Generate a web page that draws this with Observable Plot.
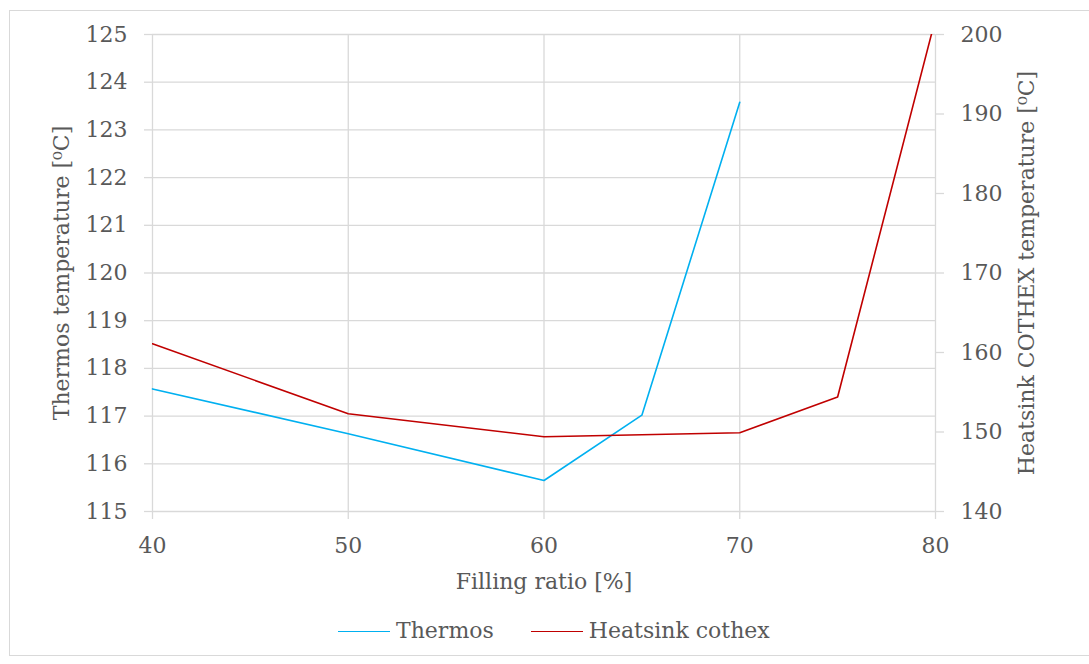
<!DOCTYPE html>
<html><head><meta charset="utf-8">
<script src="https://cdn.jsdelivr.net/npm/d3@7"></script>
<script src="https://cdn.jsdelivr.net/npm/@observablehq/plot@0.6"></script>
<style>
body{margin:0;background:#fff;font-family:"DejaVu Serif",serif;color:#595959}
#wrap{position:relative;width:1089px;height:664px;overflow:hidden}
#border{position:absolute;left:9px;top:10px;width:1100px;height:646px;border:1px solid #d9d9d9;box-sizing:border-box}
#chart{position:absolute;left:0;top:0}
#legend{position:absolute;left:338px;top:616px;height:30px;line-height:30px;display:flex;align-items:center;font-size:22px;white-space:nowrap}
.sw{display:inline-block;width:52px;height:0;margin-right:6px}
.item{display:flex;align-items:center}
</style></head><body>
<div id="wrap"><div id="border"></div><div id="chart"></div><div id="legend"></div></div>
<script>
// Data
const thermosX = [40, 50, 60, 65, 70];
const thermosT = [117.57, 116.63, 115.65, 117.02, 123.58];
const heatsinkX = [40, 50, 60, 70, 75, 80];
const heatsinkT = [161.1, 152.3, 149.4, 149.9, 154.4, 202];
const xTicks = [40, 50, 60, 70, 80];
const leftTicks = [115, 116, 117, 118, 119, 120, 121, 122, 123, 124, 125];
const rightTicks = [140, 150, 160, 170, 180, 190, 200];
const seriesNames = ["Thermos", "Heatsink cothex"];
const seriesColors = ["#00b0f0", "#c00000"];
const labels = {x: "Filling ratio [%]", left: "Thermos temperature [\u2070C]", right: "Heatsink COTHEX temperature [\u2070C]"};

// map right-axis values onto left scale (140..200 -> 115..125)
const toLeft = v => 115 + (v - 140) / 6;
const toRight = v => Math.round(140 + (v - 115) * 6);

const thermos = thermosX.map((x, i) => ({x, y: thermosT[i]}));
const heat = heatsinkX.map((x, i) => ({x, y: toLeft(heatsinkT[i])}));

const grid = {stroke: "#d9d9d9", strokeOpacity: 1, strokeWidth: 1.3};
const axisStyle = {stroke: "#d9d9d9", strokeOpacity: 1, strokeWidth: 1.3, color: "#595959", label: null, tickSize: 8};
const labelStyle = {text: d => d, fill: "#595959", fontSize: 22, textAnchor: "middle", lineAnchor: "middle"};

const chart = Plot.plot({
  width: 1089, height: 605,
  marginLeft: 152, marginRight: 154, marginTop: 34, marginBottom: 94,
  style: {fontFamily: "DejaVu Serif", fontSize: "22px", color: "#595959", background: "transparent", overflow: "visible"},
  x: {domain: [40, 80]},
  y: {domain: [115, 125]},
  marks: [
    Plot.gridX(xTicks, grid),
    Plot.gridY(leftTicks, grid),
    Plot.axisX(xTicks, {...axisStyle, tickPadding: 18, tickFormat: d => String(d)}),
    Plot.axisY(leftTicks, {...axisStyle, anchor: "left", tickPadding: 17, tickFormat: d => String(d)}),
    Plot.axisY(rightTicks.map(toLeft), {...axisStyle, anchor: "right", tickPadding: 17, tickFormat: d => String(toRight(d))}),
    Plot.line(thermos, {x: "x", y: "y", stroke: seriesColors[0], strokeWidth: 1.6}),
    Plot.line(heat, {x: "x", y: "y", stroke: seriesColors[1], strokeWidth: 1.6, clip: true}),
    Plot.text([labels.left], {...labelStyle, frameAnchor: "left", rotate: -90, dx: -91, dy: 0}),
    Plot.text([labels.right], {...labelStyle, frameAnchor: "right", rotate: -90, dx: 91, dy: 0}),
    Plot.text([labels.x], {...labelStyle, frameAnchor: "bottom", dy: 70})
  ]
});
document.getElementById("chart").appendChild(chart);

const legend = document.getElementById("legend");
seriesNames.forEach((name, i) => {
  const item = document.createElement("span");
  item.className = "item";
  if (i > 0) item.style.marginLeft = "37px";
  const sw = document.createElement("span");
  sw.className = "sw";
  sw.style.borderTop = `1.6px solid ${seriesColors[i]}`;
  item.appendChild(sw);
  item.appendChild(document.createTextNode(name));
  legend.appendChild(item);
});
</script>
</body></html>
